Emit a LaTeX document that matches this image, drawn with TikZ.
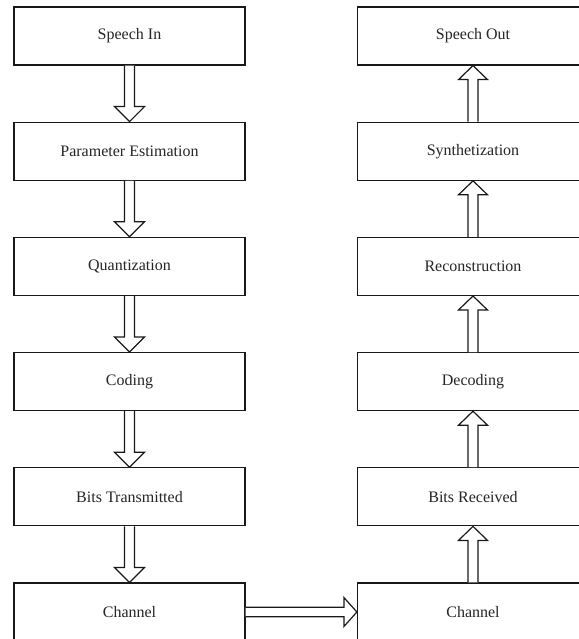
\documentclass[tikz,border=0pt]{standalone}
\usepackage{fontspec}
\setmainfont{Liberation Serif}
\usetikzlibrary{calc}

\tikzset{
  stage/.style={draw=black!90, line width=1.2bp, fill=white, minimum width=231bp,
    minimum height=58bp, inner sep=0pt, text=black!85,
    font=\fontsize{16bp}{19bp}\selectfont},
  hollow/.style={draw=black!90, line width=1.2bp, fill=white, line join=miter}
}

% Hollow block arrow from #1 to #2 (shaft half-width #3, head half-width #4, head length #5)
\newcommand\blockarrow[5]{%
  \coordinate (ba-s) at (#1);
  \coordinate (ba-t) at (#2);
  \coordinate (ba-h) at ($(ba-t)!#5!(ba-s)$);
  \draw[hollow]
    ($(ba-s)!#3!90:(ba-t)$) -- ($(ba-h)!#3!90:(ba-t)$) --
    ($(ba-h)!#4!90:(ba-t)$) -- (ba-t) --
    ($(ba-h)!#4!-90:(ba-t)$) -- ($(ba-h)!#3!-90:(ba-t)$) --
    ($(ba-s)!#3!-90:(ba-t)$);
}

\begin{document}
\begin{tikzpicture}[x=1bp, y=-1bp]
  \useasboundingbox (0,0) rectangle (579,639);
  \clip (0,0) rectangle (579,639);

  % transmitter chain (left column)
  \node[stage] (sin)  at (129.5, 36.0)  {Speech In};
  \node[stage] (pest) at (129.5, 151.2) {Parameter Estimation};
  \node[stage] (quan) at (129.5, 266.4) {Quantization};
  \node[stage] (cod)  at (129.5, 381.6) {Coding};
  \node[stage] (btx)  at (129.5, 496.8) {Bits Transmitted};
  \node[stage] (chl)  at (129.5, 612.0) {Channel};

  % receiver chain (right column)
  \node[stage] (sout) at (473.0, 36.0)  {Speech Out};
  \node[stage] (syn)  at (473.0, 151.2) {Synthetization};
  \node[stage] (rec)  at (473.0, 266.4) {Reconstruction};
  \node[stage] (dec)  at (473.0, 381.6) {Decoding};
  \node[stage] (brx)  at (473.0, 496.8) {Bits Received};
  \node[stage] (chr)  at (473.0, 612.0) {Channel};

  % downward arrows
  \blockarrow{sin.south}{pest.north}{5bp}{15bp}{15bp}
  \blockarrow{pest.south}{quan.north}{5bp}{15bp}{15bp}
  \blockarrow{quan.south}{cod.north}{5bp}{15bp}{15bp}
  \blockarrow{cod.south}{btx.north}{5bp}{15bp}{15bp}
  \blockarrow{btx.south}{chl.north}{5bp}{15bp}{15bp}

  % channel link
  \blockarrow{chl.east}{chr.west}{4.7bp}{14.5bp}{13bp}

  % upward arrows
  \blockarrow{chr.north}{brx.south}{5bp}{14.5bp}{14bp}
  \blockarrow{brx.north}{dec.south}{5bp}{14.5bp}{14bp}
  \blockarrow{dec.north}{rec.south}{5bp}{14.5bp}{14bp}
  \blockarrow{rec.north}{syn.south}{5bp}{14.5bp}{14bp}
  \blockarrow{syn.north}{sout.south}{5bp}{14.5bp}{14bp}
\end{tikzpicture}
\end{document}
